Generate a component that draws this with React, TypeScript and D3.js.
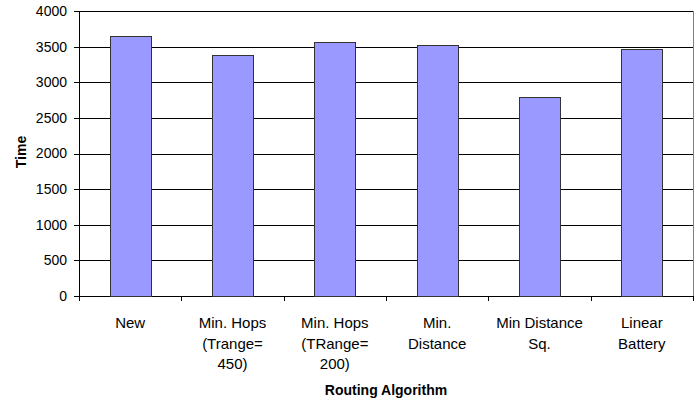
import React from 'react';
import * as d3 from 'd3';

const categories = [
  ['New'],
  ['Min. Hops', '(Trange=', '450)'],
  ['Min. Hops', '(TRange=', '200)'],
  ['Min.', 'Distance'],
  ['Min Distance', 'Sq.'],
  ['Linear', 'Battery'],
];
const times = [3645, 3385, 3565, 3522, 2797, 3462];
const yTicks = [0, 500, 1000, 1500, 2000, 2500, 3000, 3500, 4000];

const W = 700;
const H = 400;
const margin = { top: 11, right: 7, bottom: 104, left: 79 };

const App: React.FC = () => {
  const innerW = W - margin.left - margin.right;
  const innerH = H - margin.top - margin.bottom;

  const keys = categories.map((c) => c.join(' '));
  const x = d3.scaleBand<string>().domain(keys).range([0, innerW]).paddingInner(0.6).paddingOuter(0.3);
  const y = d3.scaleLinear().domain([0, 4000]).range([innerH, 0]);
  const step = x.step();

  return (
    <svg
      width={W}
      height={H}
      style={{ position: 'absolute', left: 0, top: 0, background: '#fff' }}
      fontFamily="'Liberation Sans', Arial, sans-serif"
    >
      <g transform={`translate(${margin.left},${margin.top})`}>
        {/* grid */}
        {yTicks.map((t) => (
          <line key={`g${t}`} x1={0} x2={innerW} y1={Math.round(y(t)) + 0.5} y2={Math.round(y(t)) + 0.5} stroke="#000" />
        ))}
        {/* right border */}
        <line x1={innerW + 0.5} x2={innerW + 0.5} y1={0} y2={innerH} stroke="#808080" />

        {/* bars */}
        {times.map((v, i) => (
          <rect
            key={i}
            x={Math.round(x(keys[i])!) + 0.5}
            y={Math.round(y(v)) + 0.5}
            width={Math.round(x.bandwidth())}
            height={Math.round(innerH - y(v))}
            fill="#9999FF"
            stroke="#333"
          />
        ))}

        {/* y axis */}
        <line x1={0.5} x2={0.5} y1={0} y2={innerH} stroke="#000" />
        {yTicks.map((t) => (
          <g key={`y${t}`}>
            <line x1={-5} x2={0} y1={Math.round(y(t)) + 0.5} y2={Math.round(y(t)) + 0.5} stroke="#000" />
            <text x={-12} y={y(t)} dy="0.35em" textAnchor="end" fontSize={14} fill="#000">
              {t}
            </text>
          </g>
        ))}

        {/* x axis */}
        {d3.range(keys.length + 1).map((i) => (
          <line
            key={`xt${i}`}
            x1={Math.round(i * step) + 0.5}
            x2={Math.round(i * step) + 0.5}
            y1={innerH}
            y2={innerH + 5}
            stroke="#000"
          />
        ))}
        {categories.map((lines, i) => (
          <text key={`xl${i}`} textAnchor="middle" fontSize={15} fill="#000">
            {lines.map((l, j) => (
              <tspan key={j} x={x(keys[i])! + x.bandwidth() / 2} y={innerH + 32 + j * 20.5}>
                {l}
              </tspan>
            ))}
          </text>
        ))}
      </g>

      <text
        transform={`translate(21,152) rotate(-90)`}
        textAnchor="middle"
        dy="0.35em"
        fontSize={14}
        fontWeight="bold"
      >
        Time
      </text>
      <text x={386} y={395} textAnchor="middle" fontSize={14} fontWeight="bold">
        Routing Algorithm
      </text>
    </svg>
  );
};

export default App;
